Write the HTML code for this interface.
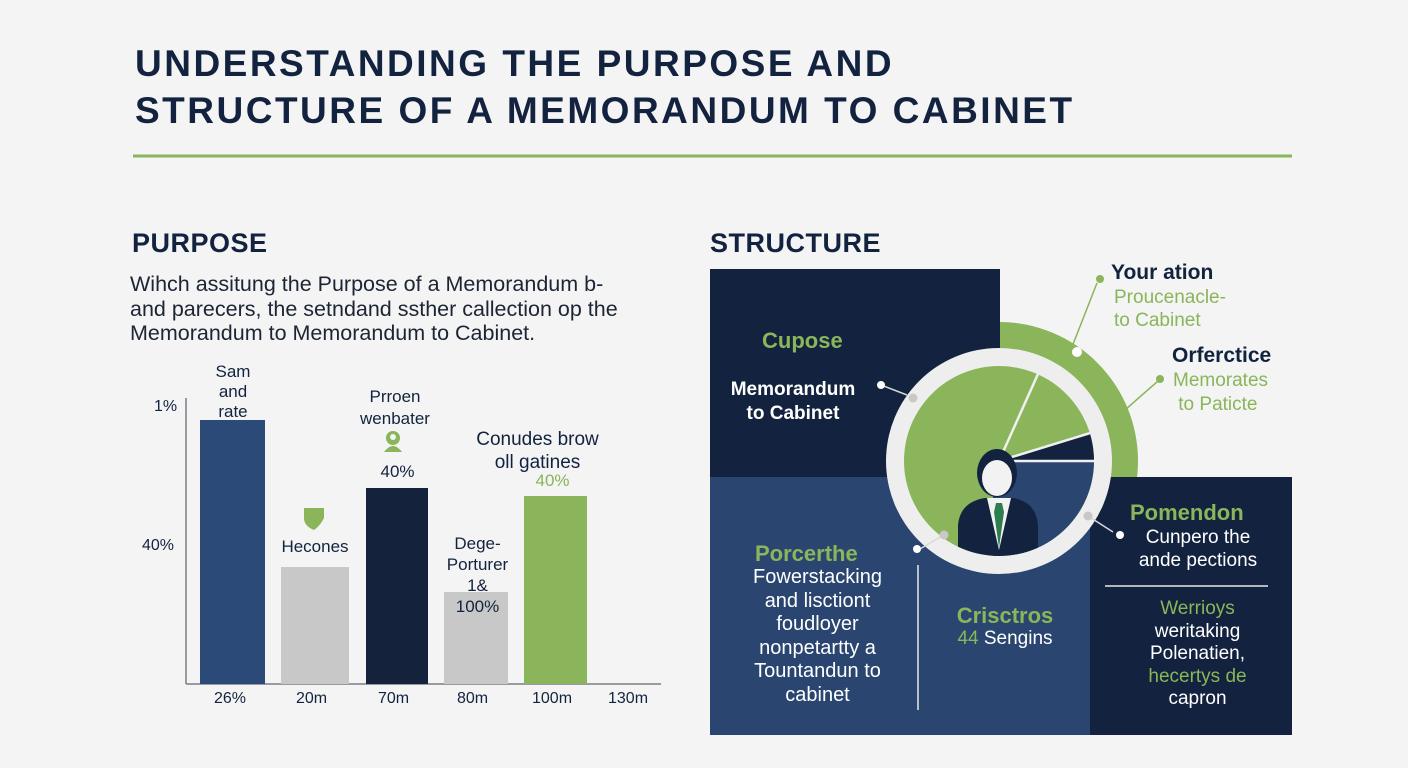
<!DOCTYPE html>
<html><head><meta charset="utf-8"><style>
html,body{margin:0;padding:0}
body{width:1408px;height:768px;position:relative;overflow:hidden;background:#f3f4f3;font-family:"Liberation Sans",sans-serif;color:#13233f}
.t{position:absolute;white-space:nowrap}
.c{text-align:center}
</style></head><body>
<svg width="1408" height="768" style="position:absolute;left:0;top:0">
<defs><clipPath id="inner"><circle cx="999" cy="461" r="95"/></clipPath></defs>
<line x1="133" y1="156" x2="1292" y2="156" stroke="#8ab55a" stroke-width="3"/>
<line x1="186" y1="398" x2="186" y2="684" stroke="#7a7f88" stroke-width="1.5"/>
<line x1="186" y1="684" x2="661" y2="684" stroke="#7a7f88" stroke-width="1.5"/>
<rect x="200" y="420" width="65" height="264" fill="#2b4a78"/>
<rect x="281" y="567" width="68" height="117" fill="#c8c8c8"/>
<rect x="366" y="488" width="62" height="196" fill="#14223c"/>
<rect x="444" y="592" width="64" height="92" fill="#c8c8c8"/>
<rect x="524" y="496" width="63" height="188" fill="#8ab55a"/>
<circle cx="393" cy="438" r="7" fill="#8ab55a"/><circle cx="393" cy="437" r="3" fill="#f3f4f3"/><path d="M384 452 Q393 440 402 452Z" fill="#8ab55a"/>
<path d="M304 508 h20 v10 q-4 8 -10 12 q-10 -4 -10 -12Z" fill="#8ab55a"/>
<circle cx="999" cy="461" r="139" fill="#8ab55a"/>
<rect x="710" y="269" width="290" height="208" fill="#13233f"/>
<rect x="710" y="477" width="380" height="258" fill="#2a4670"/>
<rect x="1090" y="477" width="202" height="258" fill="#13233f"/>
<line x1="918" y1="565" x2="918" y2="710" stroke="#e8e8e8" stroke-width="1.5"/>
<line x1="1105" y1="586" x2="1268" y2="586" stroke="#e8e8e8" stroke-width="1.5"/>
<circle cx="999" cy="461" r="113" fill="#eeeeee"/>
<g clip-path="url(#inner)">
<rect x="900" y="360" width="200" height="200" fill="#8ab55a"/>
<rect x="993" y="461" width="110" height="110" fill="#2a4670"/>
<path d="M999 461 L1105 430 L1105 461Z" fill="#13233f"/>
<line x1="999" y1="461" x2="1042" y2="365" stroke="#f0f0f0" stroke-width="2.5"/>
<line x1="999" y1="461" x2="1100" y2="430" stroke="#f0f0f0" stroke-width="2.5"/>
<line x1="999" y1="461" x2="1100" y2="461" stroke="#f0f0f0" stroke-width="2.5"/>
<path d="M958 560 L958 525 Q960 502 985 498 L1013 498 Q1036 502 1038 525 L1038 560Z" fill="#13233f"/>
<path d="M987 498 L999 550 L1011 498Z" fill="#f2f2f2"/>
<path d="M996 503 L1002 503 L1004 512 L999 548 L994 512Z" fill="#2e7d4f"/>
<ellipse cx="997" cy="473" rx="20" ry="24" fill="#13233f"/>
<ellipse cx="997" cy="478" rx="15" ry="18" fill="#f2f2f2"/>
</g>
<g stroke="#d8d8d8" stroke-width="1.5" fill="none">
<line x1="881" y1="385" x2="907" y2="395"/>
<line x1="1070" y1="352" x2="1097" y2="283" stroke="#8ab55a"/>
<line x1="1125" y1="410" x2="1158" y2="381" stroke="#8ab55a"/>
<line x1="1088" y1="516" x2="1113" y2="532"/>
<line x1="920" y1="549" x2="942" y2="536"/>
</g>
<circle cx="881" cy="385" r="4" fill="#fff"/><circle cx="913" cy="398" r="4.5" fill="#c8c8c8"/>
<circle cx="1100" cy="279" r="4" fill="#8ab55a"/><circle cx="1077" cy="352" r="5" fill="#fff"/>
<circle cx="1160" cy="379" r="4" fill="#8ab55a"/>
<circle cx="1088" cy="516" r="4.5" fill="#c8c8c8"/><circle cx="1120" cy="535" r="4" fill="#fff"/>
<circle cx="917" cy="549" r="4" fill="#fff"/><circle cx="944" cy="535" r="4.5" fill="#c8c8c8"/>
</svg>

<div class="t" style="left:135px;top:40px;font-size:37px;font-weight:bold;line-height:47px;letter-spacing:2.5px">UNDERSTANDING THE PURPOSE AND<br>STRUCTURE OF A MEMORANDUM TO CABINET</div>
<div class="t" style="left:132px;top:228px;font-size:27px;font-weight:bold;letter-spacing:0.5px">PURPOSE</div>
<div class="t" style="left:710px;top:228px;font-size:27px;font-weight:bold;letter-spacing:0.5px">STRUCTURE</div>
<div class="t" style="left:130px;top:272px;font-size:21.5px;line-height:24.5px;color:#1d2535">Wihch assitung the Purpose of a Memorandum b-<br>and parecers, the setndand ssther callection op the<br>Memorandum to Memorandum to Cabinet.</div>

<div class="t" style="left:154px;top:398px;font-size:16px">1%</div>
<div class="t" style="left:142px;top:537px;font-size:16px">40%</div>
<div class="t c" style="left:193px;top:362px;width:80px;font-size:17px;line-height:20px">Sam<br>and<br>rate</div>
<div class="t c" style="left:340px;top:386px;width:110px;font-size:17px;line-height:22px">Prroen<br>wenbater</div>
<div class="t c" style="left:360px;top:462px;width:75px;font-size:17px">40%</div>
<div class="t c" style="left:265px;top:537px;width:100px;font-size:17px">Hecones</div>
<div class="t c" style="left:430px;top:533px;width:95px;font-size:17px;line-height:21px">Dege-<br>Porturer<br>1&amp;<br>100%</div>
<div class="t c" style="left:455px;top:428px;width:165px;font-size:19px;line-height:23px">Conudes brow<br>oll gatines</div>
<div class="t c" style="left:515px;top:471px;width:75px;font-size:17px;color:#8ab55a">40%</div>
<div class="t" style="left:214px;top:690px;font-size:16px">26%</div>
<div class="t" style="left:296px;top:690px;font-size:16px">20m</div>
<div class="t" style="left:378px;top:690px;font-size:16px">70m</div>
<div class="t" style="left:457px;top:690px;font-size:16px">80m</div>
<div class="t" style="left:532px;top:690px;font-size:16px">100m</div>
<div class="t" style="left:608px;top:690px;font-size:16px">130m</div>

<div class="t" style="left:762px;top:328px;font-size:22px;font-weight:bold;color:#8ab55a">Cupose</div>
<div class="t c" style="left:718px;top:378px;width:150px;font-size:19px;font-weight:bold;color:#fff;line-height:24px">Memorandum<br>to Cabinet</div>
<div class="t" style="left:1111px;top:261px;font-size:21px;font-weight:bold">Your ation</div>
<div class="t" style="left:1114px;top:286px;font-size:19px;color:#8ab55a;line-height:23px">Proucenacle-<br>to Cabinet</div>
<div class="t" style="left:1172px;top:344px;font-size:21px;font-weight:bold">Orferctice</div>
<div class="t" style="left:1173px;top:369px;font-size:19px;color:#8ab55a;line-height:24px">Memorates<br>&nbsp;to Paticte</div>
<div class="t" style="left:1130px;top:500px;font-size:22px;font-weight:bold;color:#8ab55a">Pomendon</div>
<div class="t c" style="left:1118px;top:526px;width:160px;font-size:19px;color:#fff;line-height:23px">Cunpero the<br>ande pections</div>
<div class="t c" style="left:1110px;top:598px;width:175px;font-size:19px;color:#fff;line-height:22.5px"><span style="color:#8ab55a">Werrioys</span><br>weritaking<br>Polenatien,<br><span style="color:#8ab55a">hecertys de</span><br>capron</div>
<div class="t" style="left:755px;top:541px;font-size:22px;font-weight:bold;color:#8ab55a">Porcerthe</div>
<div class="t c" style="left:730px;top:566px;width:175px;font-size:20px;color:#fff;line-height:23.5px">Fowerstacking<br>and lisctiont<br>foudloyer<br>nonpetartty a<br>Tountandun to<br>cabinet</div>
<div class="t c" style="left:930px;top:603px;width:150px;font-size:22px;font-weight:bold;color:#8ab55a">Crisctros</div>
<div class="t c" style="left:930px;top:628px;width:150px;font-size:19px;color:#fff"><span style="color:#8ab55a">44</span> Sengins</div>
</body></html>
